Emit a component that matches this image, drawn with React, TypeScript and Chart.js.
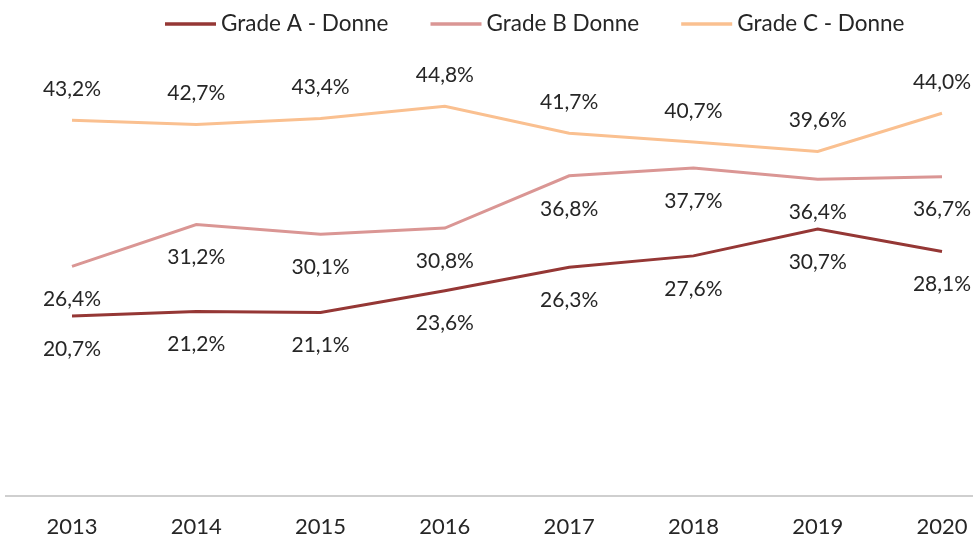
import React, { useEffect, useRef } from "react";
import { Chart, registerables } from "chart.js";

Chart.register(...registerables);

const years = ["2013", "2014", "2015", "2016", "2017", "2018", "2019", "2020"];
const gradeA = [20.7, 21.2, 21.1, 23.6, 26.3, 27.6, 30.7, 28.1];
const gradeB = [26.4, 31.2, 30.1, 30.8, 36.8, 37.7, 36.4, 36.7];
const gradeC = [43.2, 42.7, 43.4, 44.8, 41.7, 40.7, 39.6, 44.0];
const seriesNames = ["Grade A - Donne", "Grade B Donne", "Grade C - Donne"];
const seriesColors = ["#953735", "#DA9694", "#FAC090"];
const labelSide = ["below", "below", "above"];

const FONT = "Lato, 'Noto Sans', sans-serif";
const TEXT = "#262626";

const fmt = (v: number) => v.toFixed(1).replace(".", ",") + "%";

const labelPlugin = {
  id: "valueLabels",
  afterDatasetsDraw(chart: any) {
    const ctx = chart.ctx;
    ctx.save();
    ctx.font = `21px ${FONT}`;
    ctx.fillStyle = TEXT;
    ctx.textAlign = "center";
    ctx.textBaseline = "middle";
    chart.data.datasets.forEach((ds: any, i: number) => {
      const meta = chart.getDatasetMeta(i);
      meta.data.forEach((pt: any, j: number) => {
        const dy = labelSide[i] === "above" ? -31 : 33;
        ctx.fillText(fmt(ds.data[j]), pt.x, pt.y + dy);
      });
    });
    ctx.restore();
  },
};

const axisLinePlugin = {
  id: "axisLine",
  afterDraw(chart: any) {
    const ctx = chart.ctx;
    const y = chart.chartArea.bottom;
    ctx.save();
    ctx.strokeStyle = "#BFBFBF";
    ctx.lineWidth = 1.5;
    ctx.beginPath();
    ctx.moveTo(5, y);
    ctx.lineTo(chart.width, y);
    ctx.stroke();
    ctx.restore();
  },
};

const legendPlugin = {
  id: "customLegend",
  afterDraw(chart: any) {
    const ctx = chart.ctx;
    ctx.save();
    ctx.font = `22.5px ${FONT}`;
    ctx.textBaseline = "middle";
    ctx.textAlign = "left";
    let x = 165;
    const y = 24;
    chart.data.datasets.forEach((ds: any) => {
      ctx.strokeStyle = ds.borderColor;
      ctx.lineWidth = 3.5;
      ctx.beginPath();
      ctx.moveTo(x, y);
      ctx.lineTo(x + 51, y);
      ctx.stroke();
      x += 56;
      ctx.fillStyle = TEXT;
      ctx.fillText(ds.label, x, y);
      x += ctx.measureText(ds.label).width + 42;
    });
    ctx.restore();
  },
};

export default function App() {
  const ref = useRef<HTMLCanvasElement | null>(null);
  useEffect(() => {
    if (!ref.current) return;
    const data = [gradeA, gradeB, gradeC];
    const chart = new Chart(ref.current, {
      type: "line",
      data: {
        labels: years,
        datasets: data.map((d, i) => ({
          label: seriesNames[i],
          data: d,
          borderColor: seriesColors[i],
          backgroundColor: seriesColors[i],
          borderWidth: 3,
          pointRadius: 0,
          tension: 0,
        })),
      },
      options: {
        animation: false,
        responsive: true,
        maintainAspectRatio: false,
        layout: { padding: { left: 72, right: 31, top: 61, bottom: 0 } },
        plugins: {
          legend: { display: false },
          tooltip: { enabled: false },
        },
        scales: {
          x: {
            offset: false,
            grid: { display: false, drawTicks: false },
            border: { display: false },
            ticks: { color: TEXT, font: { family: FONT, size: 22 }, padding: 18, maxRotation: 0 },
            afterFit: (s: any) => {
              s.height = 43;
              s.paddingLeft = 0;
              s.paddingRight = 0;
            },
          },
          y: {
            display: false,
            min: 0,
            max: 50,
          },
        },
      },
      plugins: [labelPlugin, axisLinePlugin, legendPlugin],
    });
    return () => chart.destroy();
  }, []);
  return (
    <div style={{ position: "fixed", left: 0, top: 0, width: 973, height: 539, background: "#fff" }}>
      <canvas ref={ref} />
    </div>
  );
}
